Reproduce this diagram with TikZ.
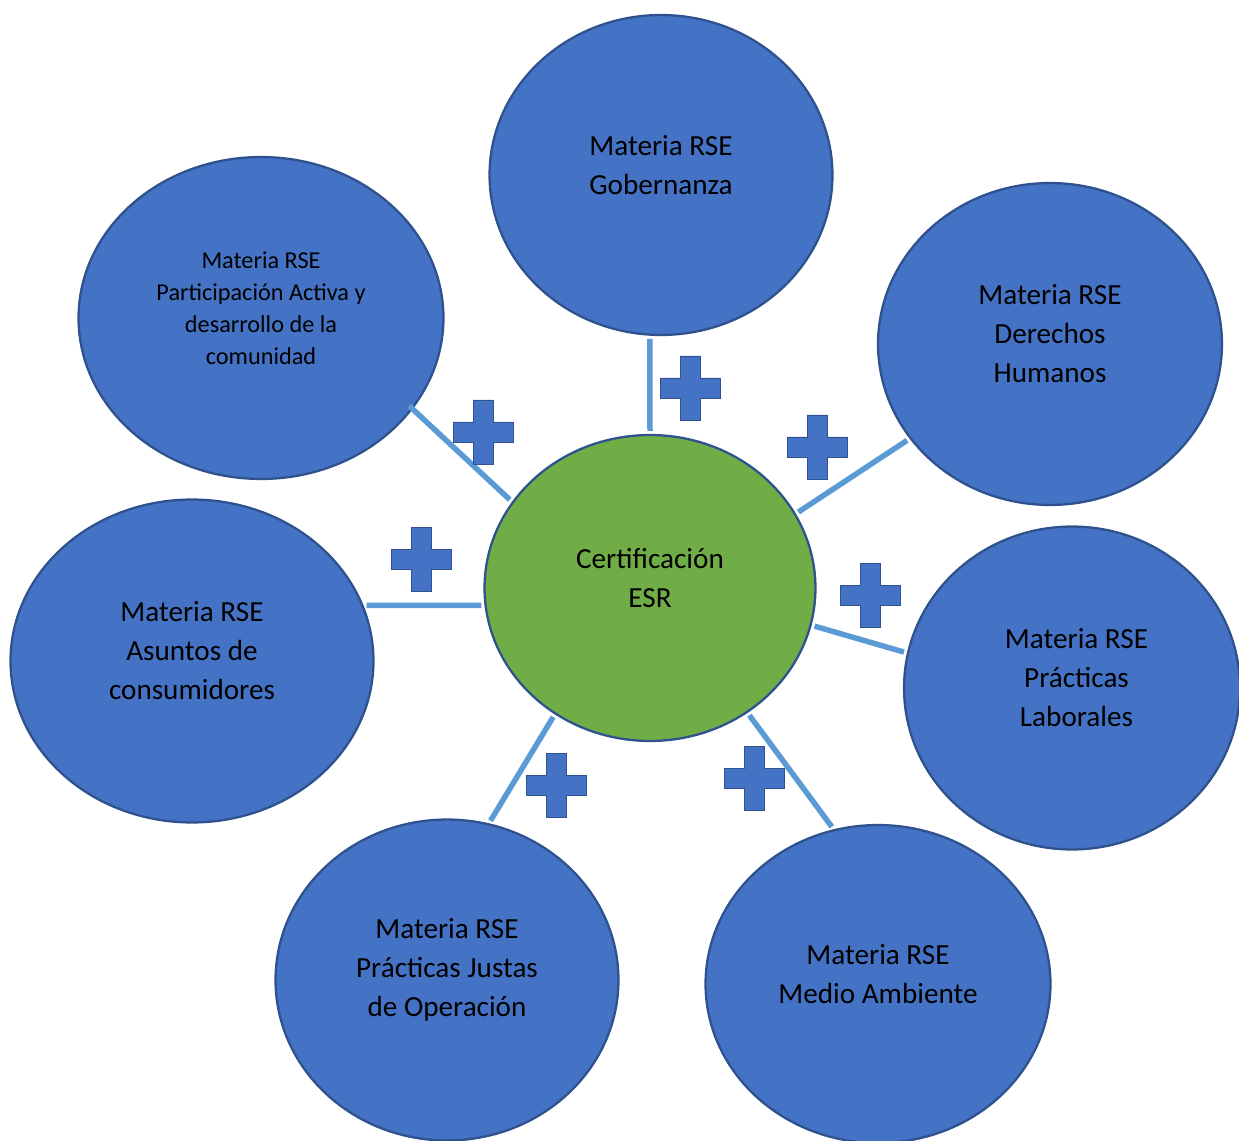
\documentclass[tikz,border=0pt]{standalone}
\usepackage{fontspec}
\setmainfont{Carlito}
\usetikzlibrary{shapes.geometric}
\definecolor{rseblue}{HTML}{4472C4}
\definecolor{rseedge}{HTML}{2F528F}
\definecolor{esrgreen}{HTML}{70AD47}
\definecolor{linkblue}{HTML}{5B9BD5}

\begin{document}
\begin{tikzpicture}
[x=0.02cm, y=-0.02cm,
every edge/.append style={color=linkblue, line width=0.11cm, shorten <=0.06cm, shorten >=0.06cm},
materia/.style={ellipse, draw=rseedge, line width=1.3pt, fill=rseblue, inner sep=0pt},
esr/.style={ellipse, draw=rseedge, line width=1.3pt, fill=esrgreen, inner sep=0pt},
bigtxt/.style={align=center, font=\fontsize{16.6}{22.2}\selectfont, yshift=0.2cm},
smalltxt/.style={align=center, font=\fontsize{13.8}{18.2}\selectfont, yshift=0.2cm},
plussign/.style={fill=rseblue, draw=rseedge, line width=0.5pt},
]
\useasboundingbox (0,0) rectangle (1239,1141);

\node[esr, minimum width=6.62cm, minimum height=6.12cm] (cen) at (650,588) {};
\node[materia, minimum width=6.86cm, minimum height=6.4cm] (gob) at (661,175) {};
\node[materia, minimum width=6.88cm, minimum height=6.44cm] (ddhh) at (1050,344) {};
\node[materia, minimum width=6.72cm, minimum height=6.46cm] (lab) at (1072,688) {};
\node[materia, minimum width=6.9cm, minimum height=6.36cm] (amb) at (878,984) {};
\node[materia, minimum width=6.86cm, minimum height=6.42cm] (just) at (447,980) {};
\node[materia, minimum width=7.26cm, minimum height=6.46cm] (cons) at (192,661) {};
\node[materia, minimum width=7.3cm, minimum height=6.44cm] (com) at (261,318) {};

\node[bigtxt] (cen-t) at (cen) {Certificación\\ESR};
\node[bigtxt] (gob-t) at (gob) {Materia RSE\\Gobernanza};
\node[bigtxt] (ddhh-t) at (ddhh) {Materia RSE\\Derechos\\Humanos};
\node[bigtxt, xshift=0.09cm] (lab-t) at (lab) {Materia RSE\\Prácticas\\Laborales};
\node[bigtxt] (amb-t) at (amb) {Materia RSE\\Medio Ambiente};
\node[bigtxt] (just-t) at (just) {Materia RSE\\Prácticas Justas\\de Operación};
\node[bigtxt] (cons-t) at (cons) {Materia RSE\\Asuntos de\\consumidores};
\node[smalltxt] (com-t) at (com) {Materia RSE\\Participación Activa y\\desarrollo de la\\comunidad};

\draw (cen.90) edge (gob.266);
\draw (cen.27) edge (ddhh.214);
\draw (cen.-13) edge (lab.168);
\draw (cen.-52) edge (amb.106);
\draw (cen.233) edge (just.75);
\draw (cen.186) edge (cons.18);
\draw (cen.148) edge[shorten >=-0.1cm] (com.-31);

\foreach \px/\py in {690/388, 817/447, 870/595, 754/778, 556/785, 421/559, 483/432}
{
\draw[plussign, shift={(\px,\py)}] (-10,-32) -- (10,-32) -- (10,-10) -- (30,-10) -- (30,10) -- (10,10)
  -- (10,32) -- (-10,32) -- (-10,10) -- (-30,10) -- (-30,-10) -- (-10,-10) -- cycle;
}
\end{tikzpicture}
\end{document}
